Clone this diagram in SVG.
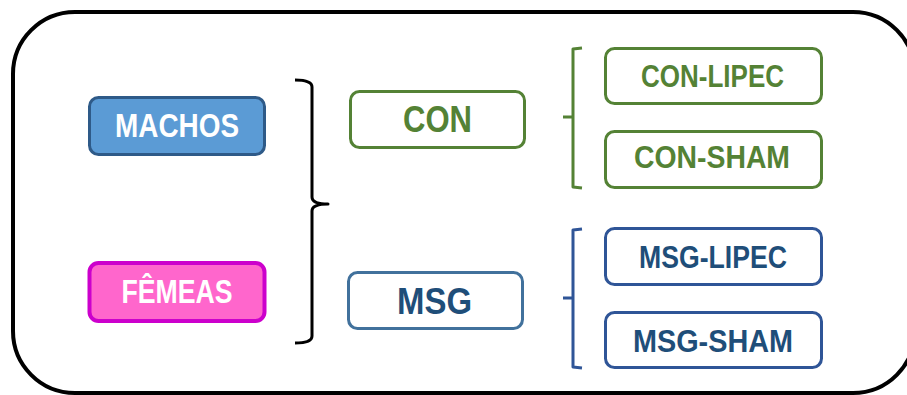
<svg xmlns="http://www.w3.org/2000/svg" width="907" height="395" viewBox="0 0 907 395">
<style>
text{font-family:"Liberation Sans Narrow","Liberation Sans",Arial,sans-serif;font-weight:bold;text-anchor:middle}
.g{fill:#fff;stroke:#548235;stroke-width:3}
.b{fill:#fff;stroke:#2F5597;stroke-width:3}
.gt{fill:#548235}
.bt{fill:#1F4E79}
.br{fill:none;stroke-width:3;stroke-linejoin:round}
</style>
<rect x="13" y="12" width="902" height="381" rx="62" ry="62" fill="#fff" stroke="#000" stroke-width="4"/>
<g id="connectors">
<path class="br" stroke="#000" d="M295 80 Q312 80 312 87 L312 197 Q312 204 328 204 Q312 204 312 211 L312 336 Q312 343 295 343"/>
<path class="br" stroke="#548235" d="M582 48 L573 49 L573 117 L563 117 M573 117 L573 187 L582 188"/>
<path class="br" stroke="#2F5597" d="M582 229 L573 230 L573 298 L563 298 M573 298 L573 367 L582 368"/>
</g>
<g id="machos">
<rect x="89.5" y="97.5" width="175" height="57" rx="9" fill="#5B9BD5" stroke="#2E5A88" stroke-width="3"/>
<text x="177" y="137" font-size="33" fill="#fff" textLength="124" lengthAdjust="spacingAndGlyphs">MACHOS</text>
</g>
<g id="femeas">
<rect x="89.5" y="263" width="175" height="58" rx="9" fill="#FF66CC" stroke="#CC00CC" stroke-width="4"/>
<text x="177" y="303" font-size="33" fill="#fff" textLength="111" lengthAdjust="spacingAndGlyphs">FÊMEAS</text>
</g>
<g id="con">
<rect class="g" x="350.5" y="91.5" width="174" height="56" rx="9"/>
<text class="gt" x="437.5" y="132" font-size="36" textLength="69" lengthAdjust="spacingAndGlyphs">CON</text>
</g>
<g id="msg">
<rect x="348.5" y="272.5" width="174" height="56" rx="9" fill="#fff" stroke="#41719C" stroke-width="3"/>
<text class="bt" x="434.5" y="314" font-size="37" textLength="75" lengthAdjust="spacingAndGlyphs">MSG</text>
</g>
<g id="con-lipec">
<rect class="g" x="605.5" y="48.5" width="216" height="55" rx="9"/>
<text class="gt" x="712.5" y="87" font-size="31" textLength="143" lengthAdjust="spacingAndGlyphs">CON-LIPEC</text>
</g>
<g id="con-sham">
<rect class="g" x="605.5" y="131.5" width="216" height="56" rx="9"/>
<text class="gt" x="712" y="168" font-size="31" textLength="156" lengthAdjust="spacingAndGlyphs">CON-SHAM</text>
</g>
<g id="msg-lipec">
<rect class="b" x="605.5" y="228.5" width="216" height="56" rx="9"/>
<text class="bt" x="713" y="268" font-size="32" textLength="148" lengthAdjust="spacingAndGlyphs">MSG-LIPEC</text>
</g>
<g id="msg-sham">
<rect class="b" x="605.5" y="312.5" width="216" height="55" rx="9"/>
<text class="bt" x="713" y="352" font-size="32" textLength="160" lengthAdjust="spacingAndGlyphs">MSG-SHAM</text>
</g>
</svg>
